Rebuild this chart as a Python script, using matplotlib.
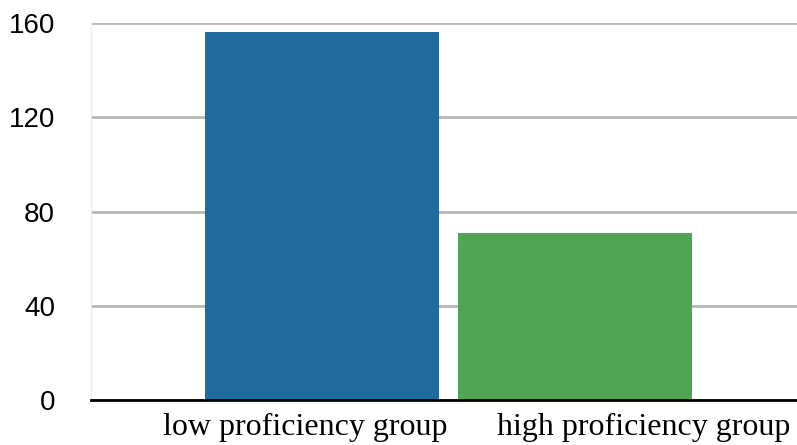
import matplotlib
matplotlib.use("Agg")
import matplotlib.pyplot as plt

categories = ["low proficiency group", "high proficiency group"]
values = [156, 71]
colors = ["#206a9e", "#50a555"]
yticks = [0, 40, 80, 120, 160]

fig = plt.figure(figsize=(7.97, 4.45), dpi=100)
ax = fig.add_axes([91/797, 45/445, 706/797, 377/445])

x = [0, 1]
ax.bar(x, values, width=0.923, color=colors, zorder=3)
ax.set_xlim(-0.911, 1.874)
ax.set_ylim(0, 160)
ax.set_yticks(yticks)
ax.set_yticklabels([str(v) for v in yticks], fontsize=20, family="Liberation Sans")
ax.yaxis.grid(True, color="#b8b8b8", linewidth=2, zorder=0)
ax.tick_params(axis="y", length=0, pad=26)
ax.tick_params(axis="x", length=0, pad=9)
ax.set_xticks([-0.067, 1.27])
ax.set_xticklabels(categories, fontsize=23, family="Liberation Serif")

for s in ["top", "right"]:
    ax.spines[s].set_visible(False)
ax.spines["left"].set_color("#ececec")
ax.spines["left"].set_linewidth(1)
ax.spines["bottom"].set_color("black")
ax.spines["bottom"].set_linewidth(2)
ax.spines["bottom"].set_zorder(4)

fig.savefig("out.png", dpi=100)
